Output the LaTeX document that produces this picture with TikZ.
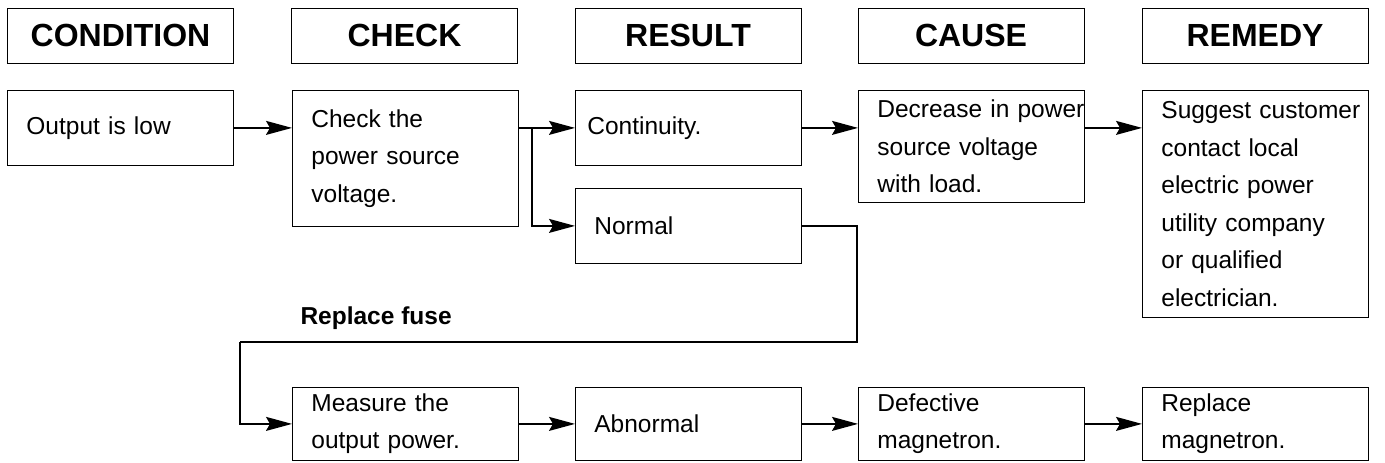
\documentclass[tikz,border=0pt]{standalone}
\usepackage{fontspec}
\setmainfont{Liberation Sans}
\usepackage{tikz}
\usetikzlibrary{arrows.meta}

\tikzset{
  headbox/.style = {draw, line width=1pt, minimum width=226pt, minimum height=55pt,
    inner sep=0pt, font=\bfseries\fontsize{32}{36}\selectfont},
  stepbox/.style = {draw, line width=0.8pt, anchor=north west, minimum height=#1,
    text width=188pt, inner xsep=19pt, inner ysep=0pt, align=left,
    font=\fontsize{24.5}{37.5}\selectfont},
  flow/.style = {line width=1.3pt, -{Stealth[length=26pt,width=14pt,inset=4pt]}},
  wire/.style = {line width=1.3pt}
}

\begin{document}
\begin{tikzpicture}[x=1pt, y=-1pt]
\useasboundingbox (0,0) rectangle (1385,463);

% column headings
\node [headbox] (hcond)  at (120.5,35.5) {CONDITION};
\node [headbox] (hcheck) at (404.5,35.5) {CHECK};
\node [headbox] (hres)   at (688,35.5)   {RESULT};
\node [headbox] (hcause) at (971,35.5)   {CAUSE};
\node [headbox] (hrem)   at (1255,35.5)  {REMEDY};

% upper row
\node [stepbox=75pt]  (cond)   at (7,90)    {Output is low};
\node [stepbox=136pt] (check)  at (292,90)  {Check the\\power source\\voltage.};
\node [stepbox=75pt, text width=202pt, inner xsep=12pt] (cont) at (575,90) {Continuity.};
\node [stepbox=75pt]  (normal) at (575,188) {Normal};
\node [stepbox=112pt] (cause)  at (858,90)  {\mbox{Decrease in power}\\source voltage\\with load.};
\node [stepbox=227pt] (remedy) at (1142,90) {\mbox{Suggest customer}\\contact local\\electric power\\utility company\\or qualified\\electrician.};

% lower row
\node [stepbox=73pt] (measure)  at (292,387)  {Measure the\\output power.};
\node [stepbox=73pt] (abnormal) at (575,387)  {Abnormal};
\node [stepbox=73pt] (defect)   at (858,387)  {Defective\\magnetron.};
\node [stepbox=73pt] (replace)  at (1142,387) {Replace\\magnetron.};

\node [anchor=west, font=\bfseries\fontsize{24.5}{28}\selectfont] (fuse) at (297,318) {Replace fuse};

% bends of the return line
\coordinate (split) at (532,127.5);
\coordinate (fuseR) at (857,342);
\coordinate (fuseL) at (240,342);

% connectors
\draw [flow] (cond.east) -- (cond.east -| check.west);
\draw [flow] (cont.west -| check.east) -- (cont.west);
\draw [flow] (split) |- (normal.west);
\draw [flow] (cont.east) -- (cont.east -| cause.west);
\draw [flow] (cont.east -| cause.east) -- (cont.east -| remedy.west);
\draw [wire] (normal.east) -| (fuseR) -- (fuseL);
\draw [flow] (fuseL) |- (measure.west);
\draw [flow] (measure.east) -- (abnormal.west);
\draw [flow] (abnormal.east) -- (defect.west);
\draw [flow] (defect.east) -- (replace.west);
\end{tikzpicture}
\end{document}
